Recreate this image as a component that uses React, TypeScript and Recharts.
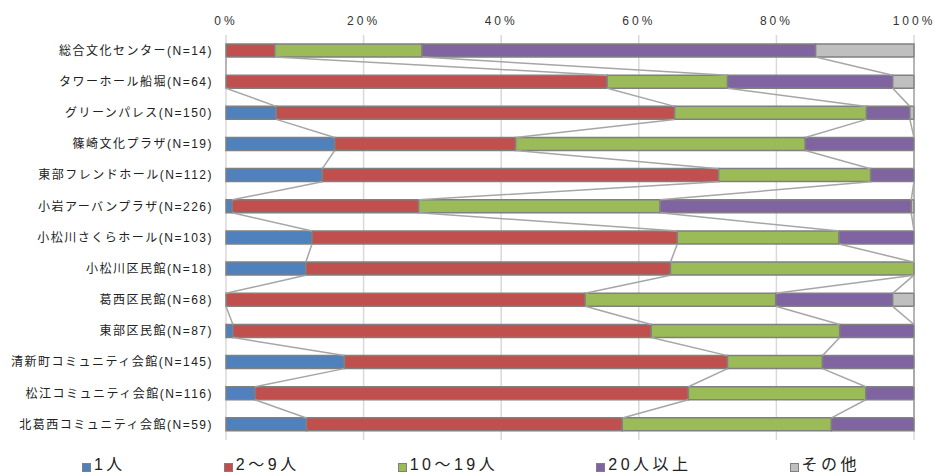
import React from "react";
import {
  ComposedChart,
  Bar,
  Line,
  XAxis,
  YAxis,
  CartesianGrid,
  Legend,
} from "recharts";

const facilities = [
  "総合文化センター(N=14)",
  "タワーホール船堀(N=64)",
  "グリーンパレス(N=150)",
  "篠崎文化プラザ(N=19)",
  "東部フレンドホール(N=112)",
  "小岩アーバンプラザ(N=226)",
  "小松川さくらホール(N=103)",
  "小松川区民館(N=18)",
  "葛西区民館(N=68)",
  "東部区民館(N=87)",
  "清新町コミュニティ会館(N=145)",
  "松江コミュニティ会館(N=116)",
  "北葛西コミュニティ会館(N=59)",
];

// percentages per facility
const single = [0, 0, 7.3, 15.8, 14.0, 0.9, 12.5, 11.6, 0, 1.0, 17.2, 4.2, 11.7];
const small = [7.1, 55.4, 57.9, 26.3, 57.6, 27.1, 53.1, 53.0, 52.2, 60.8, 55.7, 63.0, 45.9];
const medium = [21.4, 17.5, 27.9, 42.1, 22.1, 35.1, 23.5, 35.4, 27.7, 27.4, 13.8, 25.8, 30.4];
const large = [57.2, 24.0, 6.3, 15.8, 6.3, 36.5, 10.9, 0, 17.0, 10.8, 13.3, 7.0, 12.0];
const other = [14.3, 3.1, 0.6, 0, 0, 0.4, 0, 0, 3.1, 0, 0, 0, 0];

const seriesNames = ["1人", "2～9人", "10～19人", "20人以上", "その他"];
const seriesColors = ["#4f81bd", "#c0504d", "#9bbb59", "#8064a2", "#bfbfbf"];
const seriesValues = [single, small, medium, large, other];
const percentTicks = [0, 20, 40, 60, 80, 100];

const BAR_SIZE = 13;
const FONT = "'Liberation Sans', 'Noto Sans CJK JP', sans-serif";

const data = facilities.map((name, i) => {
  const row: any = { name };
  let cum = 0;
  seriesValues.forEach((vals, k) => {
    row["s" + k] = vals[i];
    cum += vals[i];
    row["c" + k] = cum;
  });
  return row;
});

// Excel-style series line: bottom edge of one bar to top edge of the next
const seriesLineCurve = (ctx: any) => {
  let first = true;
  const half = BAR_SIZE / 2;
  return {
    areaStart() {},
    areaEnd() {},
    lineStart() {
      first = true;
    },
    lineEnd() {},
    point(x: number, y: number) {
      if (first) {
        ctx.moveTo(x, y + half);
        first = false;
      } else {
        ctx.lineTo(x, y - half);
        ctx.moveTo(x, y + half);
      }
    },
  };
};

const renderLegend = (props: any) => {
  const items = (props.payload || [])
    .filter((p: any) => p.type !== "none")
    .sort((a: any, b: any) => seriesNames.indexOf(a.value) - seriesNames.indexOf(b.value));
  return (
    <div
      style={{
        display: "flex",
        justifyContent: "center",
        gap: 98,
        paddingLeft: 8,
        paddingTop: 3,
        fontFamily: FONT,
        fontSize: 16,
        letterSpacing: 3.5,
        color: "#222",
        lineHeight: "20px",
      }}
    >
      {items.map((p: any) => (
        <div key={p.value} style={{ display: "flex", alignItems: "center" }}>
          <span
            style={{
              width: 7,
              height: 7,
              background: p.color,
              border: "1px solid #808080",
              marginRight: 3,
              marginTop: 4,
            }}
          />
          <span>{p.value}</span>
        </div>
      ))}
    </div>
  );
};

export default function App() {
  return (
    <div style={{ position: "absolute", left: 0, top: 0, width: 934, height: 476, background: "#fff" }}>
      <ComposedChart
        width={934}
        height={476}
        data={data}
        layout="vertical"
        margin={{ top: 5, right: 20, bottom: 12, left: 0 }}
      >
        <CartesianGrid horizontal={false} stroke="#d9d9d9" strokeWidth={1.5} />
        <XAxis
          type="number"
          orientation="top"
          domain={[0, 100]}
          ticks={percentTicks}
          tickFormatter={(v) => `${v}%`}
          axisLine={false}
          tickLine={false}
          tickSize={0}
          tickMargin={10}
          height={30}
          tick={{ fontSize: 12, fill: "#333", fontFamily: FONT, letterSpacing: 3 }}
        />
        <YAxis
          type="category"
          dataKey="name"
          width={226}
          axisLine={false}
          tickLine={false}
          tickSize={0}
          tickMargin={13}
          interval={0}
          tick={{ fontSize: 12, fill: "#222", fontFamily: FONT, letterSpacing: 1.5 }}
        />
        {seriesNames.map((n, k) => (
          <Bar
            key={n}
            dataKey={"s" + k}
            name={n}
            stackId="a"
            barSize={BAR_SIZE}
            fill={seriesColors[k]}
            stroke="#808080"
            strokeWidth={1.5}
            isAnimationActive={false}
          />
        ))}
        {seriesNames.map((n, k) => (
          <Line
            key={"line" + n}
            dataKey={"c" + k}
            type={seriesLineCurve as any}
            stroke="#a6a6a6"
            strokeWidth={1.5}
            dot={false}
            activeDot={false}
            legendType="none"
            isAnimationActive={false}
          />
        ))}
        <Legend
          verticalAlign="bottom"
          content={renderLegend}
          wrapperStyle={{ left: 0, width: 934, height: 24, bottom: 0 }}
        />
      </ComposedChart>
    </div>
  );
}
